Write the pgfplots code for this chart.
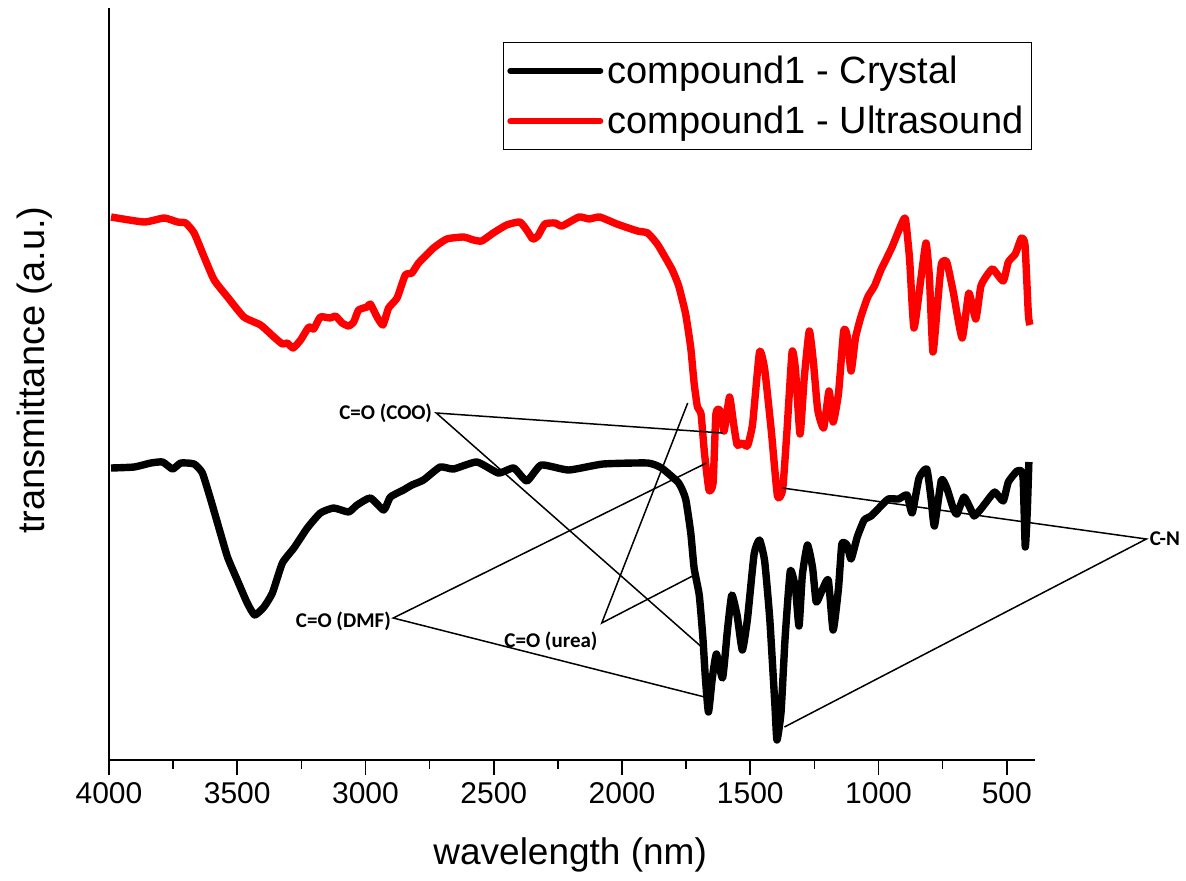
\documentclass[border=0pt]{standalone}
\usepackage{fontspec}
\setmainfont{Liberation Sans}
\newfontfamily\calib{Carlito}
\usepackage{pgfplots}
\pgfplotsset{compat=1.18}
\begin{document}
\begin{tikzpicture}
\begin{axis}[
  scale only axis,
  width=463pt, height=376pt,
  x dir=reverse,
  xmin=390, xmax=4000, ymin=0, ymax=752,
  axis x line*=bottom, axis y line*=left,
  axis line style={line width=1pt, -},
  ytick=\empty,
  xtick={500,1000,...,4000},
  minor x tick num=1,
  tick align=outside,
  major tick length=7.5pt, minor tick length=4.3pt,
  tick style={black, line width=0.8pt},
  /pgf/number format/1000 sep={},
  /pgf/number format/assume math mode=true,
  ticklabel style={font=\fontsize{15}{18}\selectfont},
  xlabel={wavelength (nm)},
  ylabel={transmittance (a.u.)},
  xlabel style={font=\fontsize{18.5}{22}\selectfont, at={(axis description cs:0.498,-0.1263)}, anchor=center},
  ylabel style={font=\fontsize{19}{23}\selectfont, at={(axis description cs:-0.0799,0.5186)}, anchor=center},
  clip=false,
  legend style={at={(rel axis cs:0.9968,0.9548)}, anchor=north east, draw=black, line width=0.6pt,
    font=\fontsize{19}{23}\selectfont, inner xsep=2pt, inner ysep=4.5pt, row sep=6pt, cells={anchor=west}},
  legend image code/.code={\draw[#1, line width=3pt, line cap=round] (0pt,0pt) -- (45pt,0pt);},
]
\addplot[black, line width=3.7pt, line join=round, smooth, tension=0.3] coordinates {
(3992,292)(3902,293)(3837,297)(3791,298)(3752,291)(3720,297)(3668,296)(3636,287)(3603,260)(3577,237)(3538,203)(3500,180)(3461,157)(3432,145)(3396,153)(3363,167)(3324,197)(3279,212)(3227,232)(3176,247)(3124,252)(3066,248)(3033,255)(2981,262)(2929,250)(2903,263)(2852,270)(2819,275)(2774,280)(2709,293)(2657,291)(2566,298)(2482,287)(2422,292)(2371,279)(2315,295)(2208,290)(2074,296)(1900,297)(1846,292)(1779,277)(1752,261)(1732,227)(1719,192)(1699,165)(1685,123)(1675,82)(1663,48)(1648,82)(1632,106)(1608,82)(1589,130)(1572,165)(1551,144)(1531,110)(1511,141)(1485,206)(1464,220)(1444,199)(1424,141)(1404,55)(1396,20)(1380,48)(1364,123)(1344,189)(1324,172)(1310,134)(1297,185)(1277,215)(1257,192)(1243,158)(1223,168)(1196,180)(1177,130)(1156,172)(1143,216)(1123,215)(1107,201)(1083,223)(1056,240)(1029,244)(1002,251)(962,261)(922,261)(889,265)(869,247)(842,282)(812,291)(795,261)(782,234)(755,280)(734,272)(708,251)(694,246)(667,263)(641,251)(627,244)(601,251)(580,258)(547,268)(514,259)(494,278)(460,289)(443,289)(436,280)(428,213)(420,250)(414,298)
};
\addlegendentry{compound1 - Crystal}
\addplot[red, line width=3.7pt, line join=round, smooth, tension=0.3] coordinates {
(3992,543)(3863,538)(3785,542)(3733,538)(3701,537)(3668,527)(3629,503)(3590,480)(3538,463)(3474,443)(3409,435)(3357,423)(3324,416)(3305,417)(3282,412)(3253,420)(3221,433)(3202,431)(3176,443)(3137,442)(3117,444)(3091,437)(3066,434)(3046,438)(3027,450)(2994,453)(2981,456)(2955,443)(2932,435)(2910,452)(2877,462)(2845,485)(2819,487)(2793,497)(2735,512)(2683,521)(2618,523)(2579,520)(2547,519)(2502,527)(2450,535)(2398,538)(2369,529)(2348,521)(2328,524)(2301,536)(2261,537)(2234,534)(2168,543)(2128,541)(2087,543)(2020,536)(1940,529)(1900,527)(1860,515)(1806,491)(1779,474)(1752,446)(1732,412)(1719,377)(1706,353)(1692,346)(1679,308)(1661,270)(1645,277)(1634,346)(1618,350)(1602,329)(1581,363)(1565,336)(1551,315)(1531,317)(1511,314)(1491,336)(1464,408)(1444,391)(1418,329)(1394,264)(1374,270)(1357,329)(1337,408)(1324,391)(1306,326)(1290,381)(1270,429)(1254,398)(1237,350)(1214,332)(1193,369)(1177,338)(1156,367)(1136,429)(1123,425)(1107,389)(1090,422)(1069,443)(1042,463)(1016,474)(989,491)(949,512)(909,537)(895,541)(879,501)(862,432)(835,481)(815,517)(802,484)(788,408)(772,450)(755,496)(734,498)(708,467)(674,422)(648,467)(621,441)(601,474)(574,486)(554,491)(514,479)(494,498)(467,506)(443,522)(429,515)(416,446)(410,435)
};
\addlegendentry{compound1 - Ultrasound}
% annotations
\draw[black, line width=0.75pt] (axis cs:1608,327) -- (axis cs:2724,347) -- (axis cs:1694,114);
\node[anchor=east, inner sep=2pt, font=\calib\bfseries\fontsize{10.5}{12}\selectfont] at (axis cs:2724,347) {C=O (COO)};
\draw[black, line width=0.75pt] (axis cs:1744,357) -- (axis cs:2079,137) -- (axis cs:1725,184);
\node[anchor=center, inner sep=1pt, font=\calib\bfseries\fontsize{10.5}{12}\selectfont] at (axis cs:2277,119) {C=O (urea)};
\draw[black, line width=0.75pt] (axis cs:1671,297) -- (axis cs:2892,142) -- (axis cs:1678,63);
\node[anchor=east, inner sep=1pt, font=\calib\bfseries\fontsize{10.5}{12}\selectfont] at (axis cs:2892,139) {C=O (DMF)};
\draw[black, line width=0.75pt] (axis cs:1375,272) -- (axis cs:-44,221) -- (axis cs:1367,33);
\node[anchor=west, inner sep=1pt, font=\calib\bfseries\fontsize{10.5}{12}\selectfont] at (axis cs:-48,221) {C-N};
\end{axis}
\pgfresetboundingbox
\path (current axis.south west) ++(-54.5pt,-60pt) rectangle ++(593pt,440pt);
\end{tikzpicture}
\end{document}
